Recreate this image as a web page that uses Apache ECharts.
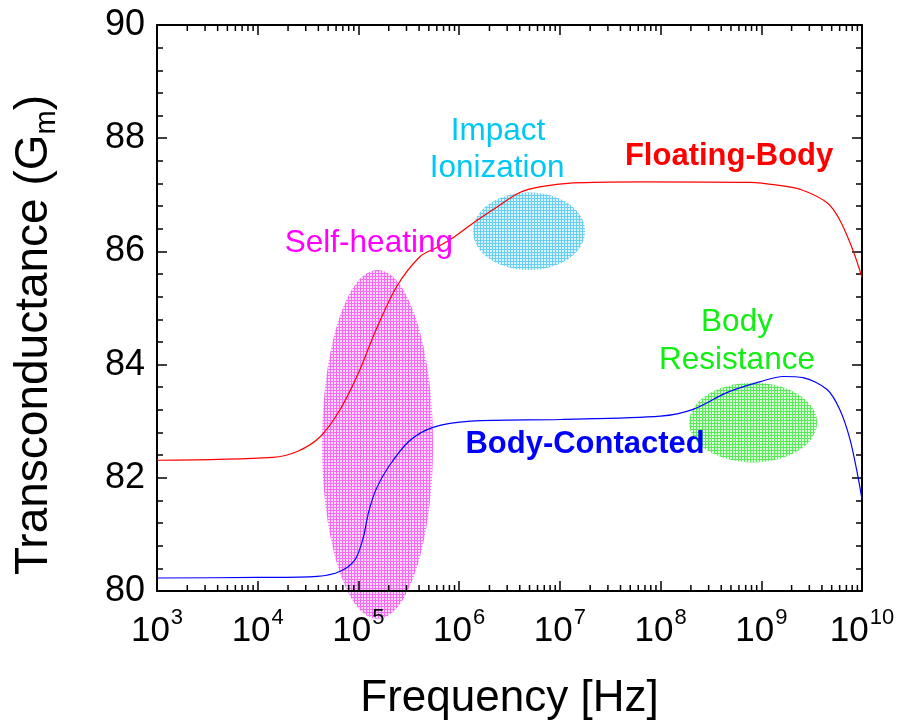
<!DOCTYPE html>
<html><head><meta charset="utf-8">
<script src="https://cdn.jsdelivr.net/npm/echarts@6/dist/echarts.min.js"></script>
<style>html,body{margin:0;padding:0;background:#fff}#c{width:899px;height:726px}</style>
</head><body><div id="c"></div>
<script>
// Floating-body curve
const freqRed = [1e3, 1.4e4, 2.5e4, 4.2e4, 6.6e4, 1.0e5, 1.5e5, 2.4e5, 4.1e5, 6.0e5, 8.7e5, 1.4e6, 2.4e6, 4.0e6, 6.3e6, 1.35e7, 6.3e7, 7.8e8, 1.45e9, 2.5e9, 4.5e9, 6.0e9, 8.1e9, 1e10];
const gmRed   = [82.31, 82.36, 82.47, 82.73, 83.21, 83.85, 84.62, 85.38, 85.91, 86.07, 86.24, 86.51, 86.79, 87.04, 87.14, 87.21, 87.23, 87.22, 87.17, 87.09, 86.86, 86.56, 86.03, 85.54];
// Body-contacted curve
const freqBlue = [1e3, 1e4, 3.9e4, 6.6e4, 9.3e4, 1.12e5, 1.26e5, 1.5e5, 2.0e5, 3.2e5, 5.5e5, 1.3e6, 1e7, 1e8, 2.1e8, 4.6e8, 9.8e8, 1.66e9, 2.6e9, 4.5e9, 6.0e9, 7.6e9, 9.1e9, 1e10];
const gmBlue   = [80.23, 80.24, 80.26, 80.35, 80.56, 80.95, 81.39, 81.80, 82.20, 82.65, 82.89, 83.00, 83.03, 83.09, 83.21, 83.51, 83.70, 83.79, 83.77, 83.56, 83.21, 82.68, 82.03, 81.62];
// axis
const xMin = 1e3, xMax = 1e10, yMin = 80, yMax = 90, yStep = 2;
const minorMantissas = [2, 3, 4, 5, 6, 7, 8, 9];
const decades = [1e3, 1e4, 1e5, 1e6, 1e7, 1e8, 1e9];
// annotation regions [fLeft, fRight, gBottom, gTop]
const regionSelfHeating = [4.35e4, 5.5e5, 79.51, 85.67];
const regionImpact = [1.37e6, 1.78e7, 85.67, 87.04];
const regionBodyRes = [1.92e8, 3.58e9, 82.27, 83.68];
// annotation text anchors [freq, gm, text]
const labelsText = [
  [1.27e5, 86.14, 'Self-heating'],
  [2.43e6, 88.12, 'Impact'],
  [2.38e6, 87.47, 'Ionization'],
  [4.79e8, 87.68, 'Floating-Body'],
  [5.74e8, 84.74, 'Body'],
  [5.74e8, 84.08, 'Resistance'],
  [1.78e7, 82.59, 'Body-Contacted']
];
const labelStyles = [
  {fill:'#ff00ff', font:'31.5px "Liberation Sans", Arial, sans-serif'},
  {fill:'#00c8f5', font:'31.5px "Liberation Sans", Arial, sans-serif'},
  {fill:'#00c8f5', font:'31.5px "Liberation Sans", Arial, sans-serif'},
  {fill:'#ff0000', font:'bold 31px "Liberation Sans", Arial, sans-serif'},
  {fill:'#11ee11', font:'31.5px "Liberation Sans", Arial, sans-serif'},
  {fill:'#11ee11', font:'31.5px "Liberation Sans", Arial, sans-serif'},
  {fill:'#0000ff', font:'bold 31px "Liberation Sans", Arial, sans-serif'}
];

const minorTicks = [];
decades.forEach(d => minorMantissas.forEach(m => minorTicks.push([m * d, yMin])));

const FONT = '"Liberation Sans", Arial, sans-serif';
const chart = echarts.init(document.getElementById('c'), null, {renderer: 'canvas'});

function xLabel(v) {
  const e = Math.round(Math.log10(v));
  return '{b|10}{s|' + e + '}';
}

const axisCommon = {
  axisLine: {show: true, onZero: false, lineStyle: {color: '#000', width: 2}},
  splitLine: {show: false}
};

const option = {
  backgroundColor: '#fff',
  animation: false,
  grid: {left: 157, right: 37, top: 25, bottom: 134, containLabel: false},
  xAxis: [
    Object.assign({}, axisCommon, {
      type: 'log', logBase: 10, min: xMin, max: xMax, position: 'bottom', z: 5,
      name: 'Frequency [Hz]', nameLocation: 'middle', nameGap: 86,
      nameTextStyle: {fontSize: 44, fontFamily: FONT, color: '#000'},
      axisTick: {show: true, inside: true, length: 10, lineStyle: {color: '#000', width: 1.5}},
      axisLabel: {
        margin: 16, formatter: xLabel, color: '#000',
        rich: {
          b: {fontSize: 35, fontFamily: FONT, color: '#000', lineHeight: 42, verticalAlign: 'bottom'},
          s: {fontSize: 22, fontFamily: FONT, color: '#000', lineHeight: 42, verticalAlign: 'top', padding: [0, 0, 0, 1]}
        }
      }
    }),
    Object.assign({}, axisCommon, {
      type: 'log', logBase: 10, min: xMin, max: xMax, position: 'top', z: 5,
      axisTick: {show: true, inside: true, length: 10, lineStyle: {color: '#000', width: 1.5}},
      axisLabel: {show: false}
    })
  ],
  yAxis: [
    Object.assign({}, axisCommon, {
      type: 'value', min: yMin, max: yMax, interval: yStep, position: 'left', z: 5,
      name: '{a|Transconductance (G}{m|m}{a|)}', nameLocation: 'middle', nameGap: 96, nameRotate: 90,
      nameTextStyle: {
        padding: [0, 54, 0, 0],
        rich: {
          a: {fontSize: 46, fontFamily: FONT, color: '#000', lineHeight: 54},
          m: {fontSize: 29, fontFamily: FONT, color: '#000', lineHeight: 54, verticalAlign: 'bottom'}
        }
      },
      axisTick: {show: true, inside: true, length: 10, lineStyle: {color: '#000', width: 1.5}},
      minorTick: {show: true, splitNumber: 5, length: 6, lineStyle: {color: '#000', width: 1.5}},
      axisLabel: {margin: 12, fontSize: 36, fontFamily: FONT, color: '#000'}
    }),
    Object.assign({}, axisCommon, {
      type: 'value', min: yMin, max: yMax, interval: yStep, position: 'right', z: 5,
      axisTick: {show: true, inside: true, length: 10, lineStyle: {color: '#000', width: 1.5}},
      minorTick: {show: true, splitNumber: 5, length: 6, lineStyle: {color: '#000', width: 1.5}},
      axisLabel: {show: false}
    })
  ],
  series: [
    {
      type: 'line', name: 'Floating-Body', showSymbol: false, symbol: 'none', z: 10,
      smooth: 0.3,
      data: freqRed.map((f, i) => [f, gmRed[i]]),
      lineStyle: {color: '#ff0000', width: 1.2}
    },
    {
      type: 'line', name: 'Body-Contacted', showSymbol: false, symbol: 'none', z: 10,
      smooth: 0.3,
      data: freqBlue.map((f, i) => [f, gmBlue[i]]),
      lineStyle: {color: '#0000ff', width: 1.2}
    },
    {
      type: 'custom', z: 6, clip: false, silent: true,
      data: minorTicks,
      renderItem: function (params, api) {
        const v = api.value(0);
        const pb = api.coord([v, yMin]);
        const pt = api.coord([v, yMax]);
        const st = {stroke: '#000', lineWidth: 1.5};
        return {type: 'group', children: [
          {type: 'line', shape: {x1: pb[0], y1: pb[1], x2: pb[0], y2: pb[1] - 6}, style: st},
          {type: 'line', shape: {x1: pt[0], y1: pt[1], x2: pt[0], y2: pt[1] + 6}, style: st}
        ]};
      }
    }
  ]
};
chart.setOption(option);

function hatch(bg, fg) {
  const c = document.createElement('canvas');
  c.width = 3; c.height = 3;
  const x = c.getContext('2d');
  x.fillStyle = bg; x.fillRect(0, 0, 3, 3);
  x.fillStyle = fg; x.fillRect(0, 0, 3, 1); x.fillRect(0, 0, 1, 3);
  return {image: c, repeat: 'repeat'};
}
function ellipseFor(r, fill) {
  const p1 = chart.convertToPixel({gridIndex: 0}, [r[0], r[3]]);
  const p2 = chart.convertToPixel({gridIndex: 0}, [r[1], r[2]]);
  return {
    type: 'ellipse', z: 1, silent: true,
    shape: {cx: (p1[0] + p2[0]) / 2, cy: (p1[1] + p2[1]) / 2, rx: Math.abs(p2[0] - p1[0]) / 2, ry: Math.abs(p2[1] - p1[1]) / 2},
    style: {fill: fill}
  };
}
const graphics = [
  ellipseFor(regionSelfHeating, hatch('#ffdcff', '#f46cf4')),
  ellipseFor(regionImpact, hatch('#dcf3fc', '#66cff2')),
  ellipseFor(regionBodyRes, hatch('#dcfcdc', '#58ea58'))
];
labelsText.forEach((l, i) => {
  const p = chart.convertToPixel({gridIndex: 0}, [l[0], l[1]]);
  graphics.push({
    type: 'text', z: 20, silent: true, x: p[0], y: p[1],
    style: {text: l[2], fill: labelStyles[i].fill, font: labelStyles[i].font, align: 'center', verticalAlign: 'middle'}
  });
});
chart.setOption({graphic: {elements: graphics}});
</script>
</body></html>
